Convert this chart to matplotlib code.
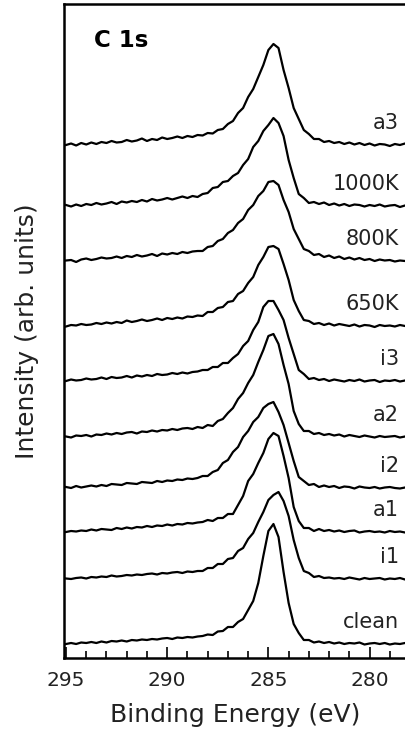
import matplotlib
matplotlib.use("Agg")
import matplotlib.pyplot as plt
from matplotlib.ticker import MultipleLocator

# Energia wiązania (eV), krok 0.25 eV
energy = [295.0, 294.75, 294.5, 294.25, 294.0, 293.75, 293.5, 293.25, 293.0,
          292.75, 292.5, 292.25, 292.0, 291.75, 291.5, 291.25, 291.0,
          290.75, 290.5, 290.25, 290.0, 289.75, 289.5, 289.25, 289.0,
          288.75, 288.5, 288.25, 288.0, 287.75, 287.5, 287.25, 287.0,
          286.75, 286.5, 286.25, 286.0, 285.75, 285.5, 285.25, 285.0,
          284.75, 284.5, 284.25, 284.0, 283.75, 283.5, 283.25, 283.0,
          282.75, 282.5, 282.25, 282.0, 281.75, 281.5, 281.25, 281.0,
          280.75, 280.5, 280.25, 280.0, 279.75, 279.5, 279.25, 279.0,
          278.75, 278.5, 278.25, 278.0]

# Widma C 1s (j. umowne)
a3 = [0, 1.5, -0.5, 2, 0.5, 2.5, 1, 3, 2, 4, 2.5, 3, 5, 3.5, 4.5, 6.5, 4, 6, 5, 7.5, 6, 7, 8.5, 7, 9, 8, 10,
      9.5, 12, 11.5, 15, 16, 21, 24, 32, 37, 48, 56, 68, 80, 95, 101, 97, 75, 57, 37, 26, 15, 11, 6, 6,
      3, 4, 2, 3, 1, 2.5, 0.5, 2, 0, 1.5, -0.5, 1, 0.5, -1, 1, 0, 1.5, 0]
k1000 = [1, -0.5, 1.5, 0, 2, 1, 3, 1.5, 2.5, 4, 2, 4.5, 3.5, 5, 4, 6, 4.5, 7, 5.5, 6.5, 8, 6.5, 8, 9.5, 8, 10, 9,
         12, 13, 18, 19, 24, 25, 30, 33, 41, 47, 59, 65, 75, 81, 88, 83, 70, 46, 28, 12, 8, 3, 4, 2,
         3.5, 1, 2.5, 0.5, 2, 0, 1.5, 1, -0.5, 1, 0, 1.5, -0.5, 0.5, 1, -1, 0.5, 0]
k800 = [0.5, 1, -1, 1.5, 2.5, 1, 2, 3.5, 2.5, 3, 4.5, 3, 5, 4, 6, 4.5, 5.5, 7, 5, 7.5, 6.5, 8, 7, 9, 8, 9.5, 10,
        10, 14, 15, 20, 22, 28, 31, 38, 42, 51, 56, 65, 70, 79, 80, 76, 61, 49, 32, 22, 12, 10, 6, 7,
        4, 5.5, 3, 4.5, 2, 3.5, 1.5, 3, 1, 2, 0, 1.5, 0.5, 1, -0.5, 0.5, 0, 1]
k650 = [-0.5, 1, 0.5, 2, 1, 1.5, 3, 2, 3.5, 2.5, 4, 3, 5.5, 4, 5, 6.5, 5, 6, 7.5, 6, 8, 7, 8.5, 7.5, 9.5, 9, 10.5,
        10, 14, 14, 18, 19, 24, 25, 32, 35, 43, 49, 61, 69, 79, 80, 77, 62, 46, 26, 15, 6, 5, 2, 3,
        1, 2.5, 0.5, 2, 1, 0, 1.5, -0.5, 1, 0.5, -1, 1, 0, 0.5, -0.5, 1, 0, 0.5]
i3 = [0, 1.5, 0.5, 1, 2.5, 1.5, 2, 3.5, 2, 4, 3, 3.5, 5, 3.5, 5.5, 4.5, 6, 5, 7, 6, 6.5, 8, 7, 8.5, 7.5, 9, 9.5,
      11, 11, 14, 14, 18, 18, 23, 27, 35, 40, 51, 59, 74, 80, 80, 71, 61, 43, 27, 11, 7, 2, 3, 1,
      2, 0, 1.5, 0.5, -0.5, 1, 0, 1.5, -0.5, 0.5, 1, -1, 0.5, 0, 1, -0.5, 0.5, 0]
a2 = [0.5, -0.5, 1.5, 1, 2, 0.5, 2.5, 2, 3.5, 2.5, 4, 3, 4.5, 5, 3.5, 5.5, 5, 6.5, 5.5, 7, 6.5, 8, 7, 8.5, 9, 8, 10,
      9, 12, 11, 16, 18, 24, 29, 38, 44, 54, 62, 75, 87, 101, 103, 93, 72, 53, 26, 13, 6, 6, 3, 4,
      2, 3, 1.5, 2.5, 0.5, 2, 1, 0, 1.5, 0.5, -0.5, 1, 0, 0.5, 1, -0.5, 0.5, 0]
i2 = [1, 0, 2, 0.5, 1.5, 2.5, 1.5, 3, 2, 4, 3.5, 3, 5, 4.5, 4, 6, 5.5, 5, 7, 6, 7.5, 7, 8.5, 8, 9.5, 9, 10,
      12, 12, 16, 18, 25, 28, 36, 41, 51, 57, 66, 71, 80, 84, 86, 76, 63, 45, 27, 11, 7, 3, 4, 1,
      2.5, 1, 2, 0, 1.5, 1, -0.5, 1.5, 0.5, 0, 1, -0.5, 0.5, 1, 0, -0.5, 0.5, 0]
a1 = [0, 1, 0.5, 1.5, 1, 2.5, 1.5, 3, 2.5, 2, 4, 3, 4.5, 3.5, 5, 4.5, 6, 5, 6.5, 6, 7.5, 6.5, 8, 7.5, 9, 8.5, 9.5,
      10, 12, 11, 14, 14, 18, 18, 27, 36, 51, 58, 69, 79, 93, 99, 96, 76, 54, 25, 11, 4, 4, 1, 3,
      1, 2, 0.5, 1.5, 0, 1, 1.5, -0.5, 0.5, 1, 0, 0.5, -0.5, 1, 0, 0.5, -0.5, 0]
i1 = [0.5, 0, 1, 1.5, 0.5, 2, 1.5, 2.5, 2, 3.5, 2.5, 3, 4, 3.5, 4.5, 4, 5, 5.5, 4.5, 6, 5.5, 6.5, 7, 6, 7.5, 7, 8,
      8, 11, 11, 15, 15, 20, 21, 28, 31, 40, 46, 57, 67, 79, 84, 87, 78, 63, 39, 21, 8, 6, 2, 3,
      1, 1.5, 0.5, 1, 0, 1.5, 0.5, -0.5, 1, 0, 0.5, 1, -0.5, 0.5, 0, 1, -0.5, 0]
clean = [0, 1, 0, 1.5, 1, 2, 1, 2.5, 1.5, 3, 2.5, 3.5, 2.5, 4, 3.5, 4.5, 4, 5, 4.5, 5.5, 6, 5, 6.5, 6, 7, 6.5, 7.5,
         8, 9.5, 9, 12.5, 13, 17, 17, 22, 25, 34, 43, 61, 88, 113, 120, 107, 72, 41, 20, 11, 4, 4, 1.5, 2.5,
         1, 2, 0.5, 1.5, 0, 1, 0.5, 1.5, -0.5, 0.5, 1, 0, 1, -0.5, 0.5, 0, 1, 0]

spectra = [a3, k1000, k800, k650, i3, a2, i2, a1, i1, clean]
labels = ["a3", "1000K", "800K", "650K", "i3", "a2", "i2", "a1", "i1", "clean"]
offsets = [513, 452, 397, 332, 277, 221, 170, 126, 79, 14]

W, H = 406, 734
fig = plt.figure(figsize=(W / 100, H / 100), dpi=100)
ax = fig.add_axes([64 / W, (H - 658) / H, (W - 64) / W, 654 / H])

for y, off in zip(spectra, offsets):
    ax.plot(energy, [v + off for v in y], color="black", linewidth=1.6)

for lab, off in zip(labels, offsets):
    ax.text(278.55, off + 22, lab, ha="right", va="center", fontsize=15, color="#222222")

ax.text(293.6, 618, "C 1s", ha="left", va="center", fontsize=16.5, fontweight="bold")

ax.set_xlim(295.1, 278.2)
ax.set_ylim(0, 654)
ax.xaxis.set_major_locator(MultipleLocator(5))
ax.xaxis.set_minor_locator(MultipleLocator(1))
ax.tick_params(axis="x", which="major", direction="in", length=8, width=1.2,
               labelsize=14.5, pad=9, top=False, colors="black", labelcolor="#222222")
ax.tick_params(axis="x", which="minor", direction="in", length=5, width=1.2, top=False)
ax.set_yticks([])
ax.spines["right"].set_visible(False)
for s in ["left", "bottom", "top"]:
    ax.spines[s].set_linewidth(1.8)

ax.set_xlabel("Binding Energy (eV)", fontsize=18, color="#222222", labelpad=10)
ax.set_ylabel("Intensity (arb. units)", fontsize=18, color="#222222", labelpad=18)

fig.savefig("out.png", dpi=100)
